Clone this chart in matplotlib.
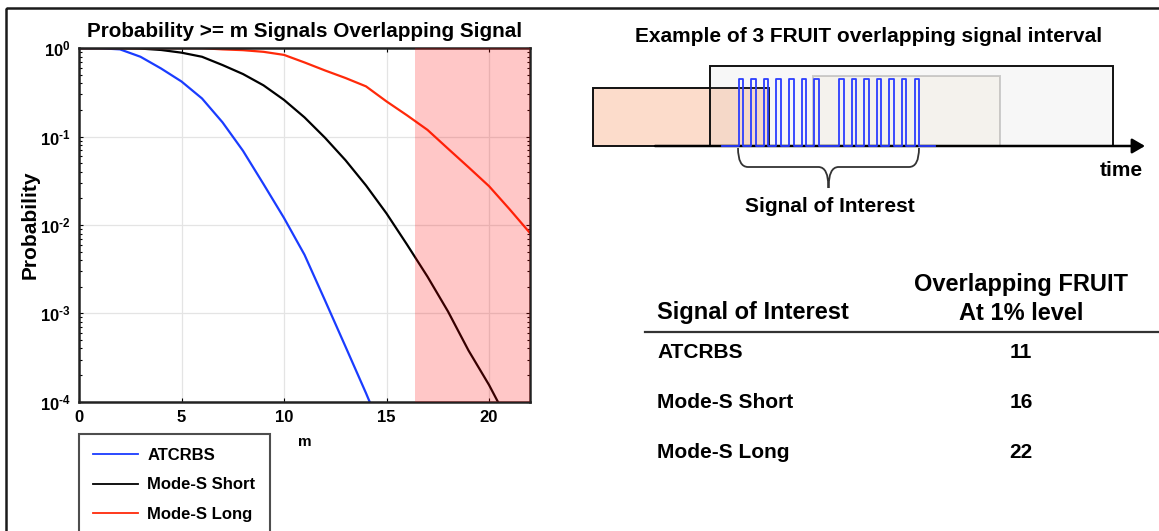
import numpy as np
import matplotlib
matplotlib.use("Agg")
import matplotlib.pyplot as plt
from matplotlib.patches import Rectangle, PathPatch
from matplotlib.path import Path
from matplotlib.ticker import FuncFormatter

plt.rcParams["font.family"] = ["Liberation Sans", "DejaVu Sans"]
plt.rcParams["font.weight"] = "bold"
plt.rcParams["mathtext.fontset"] = "custom"
plt.rcParams["mathtext.rm"] = "Liberation Sans:bold"
plt.rcParams["mathtext.it"] = "Liberation Sans:bold"
plt.rcParams["mathtext.bf"] = "Liberation Sans:bold"

# ---- probability that at least m FRUIT replies overlap the signal ----
p_atcrbs = [1.0, 0.999, 0.97, 0.80, 0.59, 0.42, 0.27, 0.145, 0.069, 0.029,
            0.012, 0.0046, 0.0014, 0.00042, 0.000125, 3.5e-5]
p_short = [1.0, 1.0, 0.999, 0.99, 0.955, 0.89, 0.80, 0.645, 0.51, 0.38,
           0.26, 0.165, 0.097, 0.054, 0.028, 0.0135, 0.006, 0.0026,
           0.00105, 0.00038, 0.000155, 5.6e-5]
p_long = [1.0, 1.0, 1.0, 1.0, 1.0, 1.0, 1.0, 0.97, 0.95, 0.91, 0.84, 0.69,
          0.56, 0.46, 0.37, 0.25, 0.174, 0.119, 0.073, 0.045, 0.0275,
          0.0151, 0.0081]
series_names = ["ATCRBS", "Mode-S Short", "Mode-S Long"]
series_colors = ["#1a3cff", "#000000", "#ff2a0a"]
highlight_range = (16.4, 22)

# ---- summary table ----
table_signals = ["ATCRBS", "Mode-S Short", "Mode-S Long"]
table_fruit = [11, 16, 22]

# ---- pulse train of the signal of interest (slot indices) ----
pulse_slots = [0, 1, 2, 3, 4, 5, 6, 8, 9, 10, 11, 12, 13, 14]

W, H = 1159, 531
fig = plt.figure(figsize=(W / 100, H / 100), dpi=100)

ax = fig.add_axes([79 / W, 1 - 401.7 / H, (530 - 79) / W, (401.7 - 48.2) / H])
for vals, name, col in zip([p_atcrbs, p_short, p_long], series_names, series_colors):
    ax.semilogy(np.arange(len(vals)), vals, color=col, lw=1.6, label=name)
ax.axvspan(*highlight_range, color="red", alpha=0.22, lw=0, zorder=5)
ax.set_xlim(0, 22)
ax.set_ylim(1e-4, 1)
ax.set_xticks([0, 5, 10, 15, 20])


def decade_label(v, _pos):
    e = int(round(np.log10(v)))
    exp = r"\text{-}%d" % -e if e < 0 else "%d" % e
    return r"$10^{%s}$" % exp


ax.yaxis.set_major_formatter(FuncFormatter(decade_label))
ax.set_axisbelow(True)
ax.grid(True, which="major", color="#e4e4e4", lw=0.9)
ax.tick_params(which="both", direction="in", top=True, right=True,
               labelsize=12, width=0.8)
ax.tick_params(which="major", length=3, pad=6)
ax.tick_params(which="minor", length=2)
for s in ax.spines.values():
    s.set_linewidth(1.8)
    s.set_color("#222222")
ax.set_title("Probability >= m Signals Overlapping Signal", fontsize=14.85,
             fontweight="bold", pad=8)
ax.set_ylabel("Probability", fontsize=15, fontweight="bold")
ax.yaxis.set_label_coords(-0.088, 0.5)
ax.set_xlabel("m", fontsize=11, fontweight="bold", labelpad=7)

# overlay in pixel units for the frame, legend anchor, diagram and table
ov = fig.add_axes([0, 0, 1, 1])
ov.set_xlim(0, W)
ov.set_ylim(H, 0)
ov.axis("off")
ov.patch.set_visible(False)

ov.add_patch(Rectangle((6, 8), W + 20, H + 20, fill=False, ec="#1a1a1a", lw=1.8))

leg = ax.legend(loc="upper left", bbox_to_anchor=(79, 434),
                bbox_transform=ov.transData, prop={"size": 12, "weight": "bold"},
                frameon=True, fancybox=False, borderpad=0.85, labelspacing=0.85,
                handlelength=2.7, handletextpad=0.55, borderaxespad=0)
leg.get_frame().set_edgecolor("#222222")
leg.get_frame().set_linewidth(1.5)
for h in leg.get_lines():
    h.set_linewidth(1.3)

# ---- timing diagram ----
ov.text(869, 36, "Example of 3 FRUIT overlapping signal interval", fontsize=15,
        fontweight="bold", ha="center", va="center")
base_y = 146
ov.add_patch(Rectangle((593, 87.7), 176, base_y - 87.7, fc="#fcdccb",
                       ec="#111111", lw=1.4, zorder=2))
ov.add_patch(Rectangle((710.4, 65.7), 402.5, base_y - 65.7, fc="#b0b0b0",
                       alpha=0.09, ec="none", zorder=3))
ov.add_patch(Rectangle((710.4, 65.7), 402.5, base_y - 65.7, fill=False,
                       ec="#111111", lw=1.4, zorder=3))
ov.add_patch(Rectangle((813.4, 75.7), 186.8, base_y - 75.7, fc="#efe9d8",
                       alpha=0.3, ec="#666666", lw=1.4, zorder=3))
ov.annotate("", xy=(1145, base_y), xytext=(655, base_y), zorder=4,
            arrowprops=dict(arrowstyle="-|>,head_length=0.55,head_width=0.32",
                            color="black", lw=1.8, mutation_scale=14,
                            shrinkA=0, shrinkB=0))

x0, pitch, pw, top = 738.8, 12.55, 4.5, 79
px, py = [722], [base_y]
for k in pulse_slots:
    s = x0 + k * pitch
    px += [s, s, s + pw, s + pw]
    py += [base_y, top, top, base_y]
px.append(934.5)
py.append(base_y)
ov.plot(px, py, color="#2b3dff", lw=1.3, zorder=5)

# curly brace under the pulse train
bl, br, bt, bh, tip_y = 738, 919, 148, 167, 188
bm = (bl + br) / 2
verts = [(bl, bt), (bl, bh), (bl + 10, bh),
         (bm - 10, bh), (bm, bh), (bm, tip_y),
         (bm, bh), (bm + 10, bh),
         (br - 10, bh), (br, bh), (br, bt)]
codes = [Path.MOVETO, Path.CURVE3, Path.CURVE3,
         Path.LINETO, Path.CURVE3, Path.CURVE3,
         Path.CURVE3, Path.CURVE3,
         Path.LINETO, Path.CURVE3, Path.CURVE3]
ov.add_patch(PathPatch(Path(verts, codes), fill=False, ec="#333333", lw=1.3))
ov.text(830, 206, "Signal of Interest", fontsize=15, fontweight="bold",
        ha="center", va="center")
ov.text(1121, 171, "time", fontsize=15, fontweight="bold", ha="center", va="center")

# ---- table ----
ov.text(1021, 285, "Overlapping FRUIT", fontsize=17, fontweight="bold",
        ha="center", va="center")
ov.text(1021, 313, "At 1% level", fontsize=17, fontweight="bold",
        ha="center", va="center")
ov.text(657, 313, "Signal of Interest", fontsize=17, fontweight="bold",
        ha="left", va="center")
ov.plot([645, W], [332, 332], color="#333333", lw=1.6)
for i, (name, val) in enumerate(zip(table_signals, table_fruit)):
    y = 353 + 50 * i
    ov.text(657, y, name, fontsize=15, fontweight="bold", ha="left", va="center")
    ov.text(1021, y, str(val), fontsize=15, fontweight="bold", ha="center", va="center")

fig.savefig("out.png", dpi=100)
